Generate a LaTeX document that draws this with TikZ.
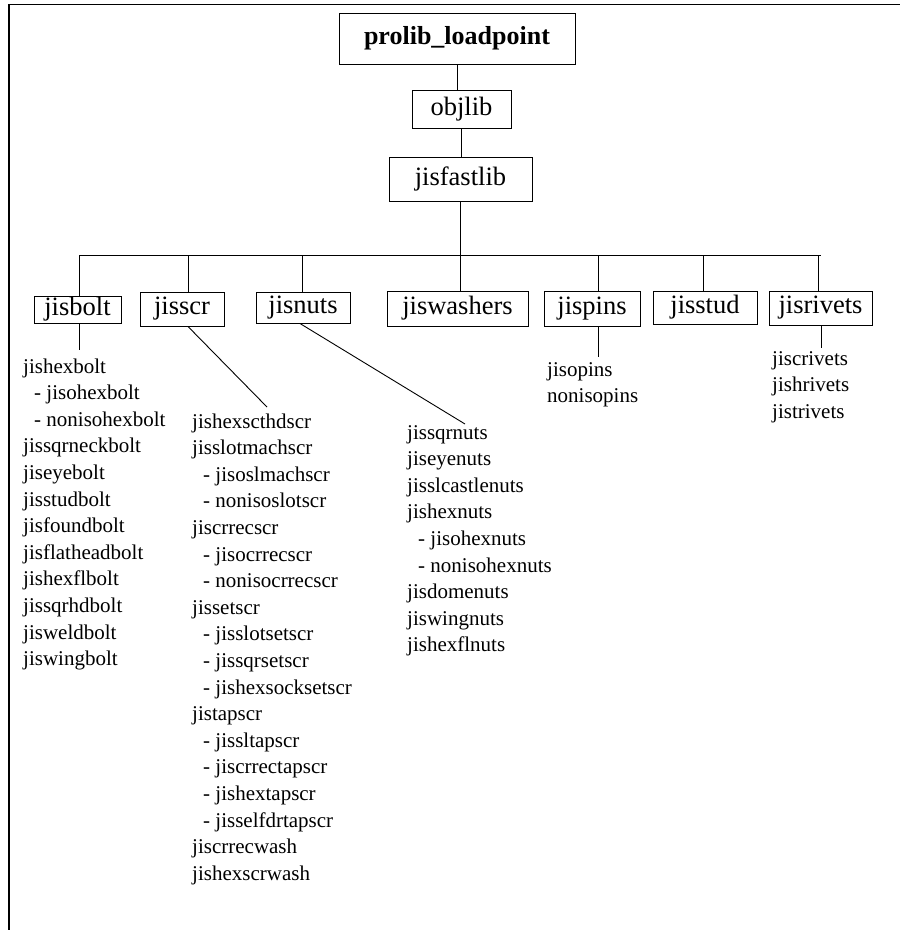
\documentclass[tikz,border=0pt]{standalone}
\usepackage{fontspec}
\setmainfont{Liberation Serif}

\newcommand{\subent}{\hspace*{11pt}- }

\begin{document}
\begin{tikzpicture}[x=1pt, y=-1pt,
    libbox/.style={draw, line width=1pt, inner sep=0pt, font=\fontsize{26.5}{30}\selectfont},
    entry/.style={anchor=base west, inner sep=0pt, font=\fontsize{21}{25}\selectfont},
    link/.style={line width=0.9pt},
    frame/.style={line width=1.6pt}]

    \useasboundingbox (0,0) rectangle (900,930);

    % =========================================
    % === Frame (top and left only) ===
    % =========================================
    \draw[frame] (9,930) -- (9,4.5) -- (900,4.5);

    % =========================================
    % === Upper chain ===
    % =========================================
    \node[libbox, minimum width=236, minimum height=51, font=\fontsize{26}{30}\selectfont\bfseries] (prolib) at (457, 38.5) {prolib\_loadpoint};
    \node[libbox, minimum width=99, minimum height=38] (objlib) at (461.5, 109) {objlib};
    \node[libbox, minimum width=143, minimum height=44] (fastlib) at (460.5, 179) {jisfastlib};

    \draw[link] (prolib.south) -- (prolib.south |- objlib.north);
    \draw[link] (objlib.south) -- (objlib.south |- fastlib.north);

    % Bus line
    \coordinate (busL) at (79, 255);
    \coordinate (busR) at (821, 255);
    \draw[link] (fastlib.south) -- (fastlib.south |- busL);
    \draw[link] (busL) -- (busR);

    % =========================================
    % === Library boxes ===
    % =========================================
    \node[libbox, minimum width=87, minimum height=27] (bolt) at (77.5, 309.5) {jisbolt};
    \node[libbox, minimum width=84, minimum height=34] (scr) at (182, 309) {jisscr};
    \node[libbox, minimum width=94, minimum height=31] (nuts) at (303, 307.5) {jisnuts};
    \node[libbox, minimum width=141, minimum height=35] (washers) at (457.5, 308.5) {jiswashers};
    \node[libbox, minimum width=96, minimum height=35] (pins) at (592, 308.5) {jispins};
    \node[libbox, minimum width=104, minimum height=33] (stud) at (705, 307.5) {jisstud};
    \node[libbox, minimum width=103, minimum height=34] (rivets) at (820.5, 308) {jisrivets};

    % Drops from the bus
    \foreach \lib/\dx in {bolt/1.5, scr/6, nuts/-1, washers/2.5, pins/6, stud/-2, rivets/-2.5}
        \draw[link] ([xshift=\dx pt]\lib.north) -- ([xshift=\dx pt]\lib.north |- busL);

    % =========================================
    % === Content lists ===
    % =========================================
    \foreach \itm [count=\i] in {jishexbolt, \subent jisohexbolt, \subent nonisohexbolt,
        jissqrneckbolt, jiseyebolt, jisstudbolt, jisfoundbolt, jisflatheadbolt,
        jishexflbolt, jissqrhdbolt, jisweldbolt, jiswingbolt}
        \node[entry] (bolt-\i) at (23, {373+26.6*(\i-1)}) {\itm};

    \foreach \itm [count=\i] in {jishexscthdscr, jisslotmachscr, \subent jisoslmachscr,
        \subent nonisoslotscr, jiscrrecscr, \subent jisocrrecscr, \subent nonisocrrecscr,
        jissetscr, \subent jisslotsetscr, \subent jissqrsetscr, \subent jishexsocksetscr,
        jistapscr, \subent jissltapscr, \subent jiscrrectapscr, \subent jishextapscr,
        \subent jisselfdrtapscr, jiscrrecwash, jishexscrwash}
        \node[entry] (scr-\i) at (192, {428+26.6*(\i-1)}) {\itm};

    \foreach \itm [count=\i] in {jissqrnuts, jiseyenuts, jisslcastlenuts, jishexnuts,
        \subent jisohexnuts, \subent nonisohexnuts, jisdomenuts, jiswingnuts, jishexflnuts}
        \node[entry] (nuts-\i) at (407, {439+26.6*(\i-1)}) {\itm};

    \foreach \itm [count=\i] in {jisopins, nonisopins}
        \node[entry] (pins-\i) at (547, {376+26.6*(\i-1)}) {\itm};

    \foreach \itm [count=\i] in {jiscrivets, jishrivets, jistrivets}
        \node[entry] (rivets-\i) at (772, {365+26.6*(\i-1)}) {\itm};

    % Links from boxes to lists
    \coordinate (boltend) at (79, 350);
    \coordinate (scrend) at (267, 407);
    \coordinate (nutsend) at (465, 424);
    \coordinate (pinsend) at (598, 357);
    \coordinate (rivetsend) at (821, 348);

    \draw[link] ([xshift=1.5pt]bolt.south) -- (boltend);
    \draw[link] ([xshift=6pt]scr.south) -- (scrend);
    \draw[link] ([xshift=-3pt]nuts.south) -- (nutsend);
    \draw[link] ([xshift=6pt]pins.south) -- (pinsend);
    \draw[link] ([xshift=0.5pt]rivets.south) -- (rivetsend);

\end{tikzpicture}
\end{document}
